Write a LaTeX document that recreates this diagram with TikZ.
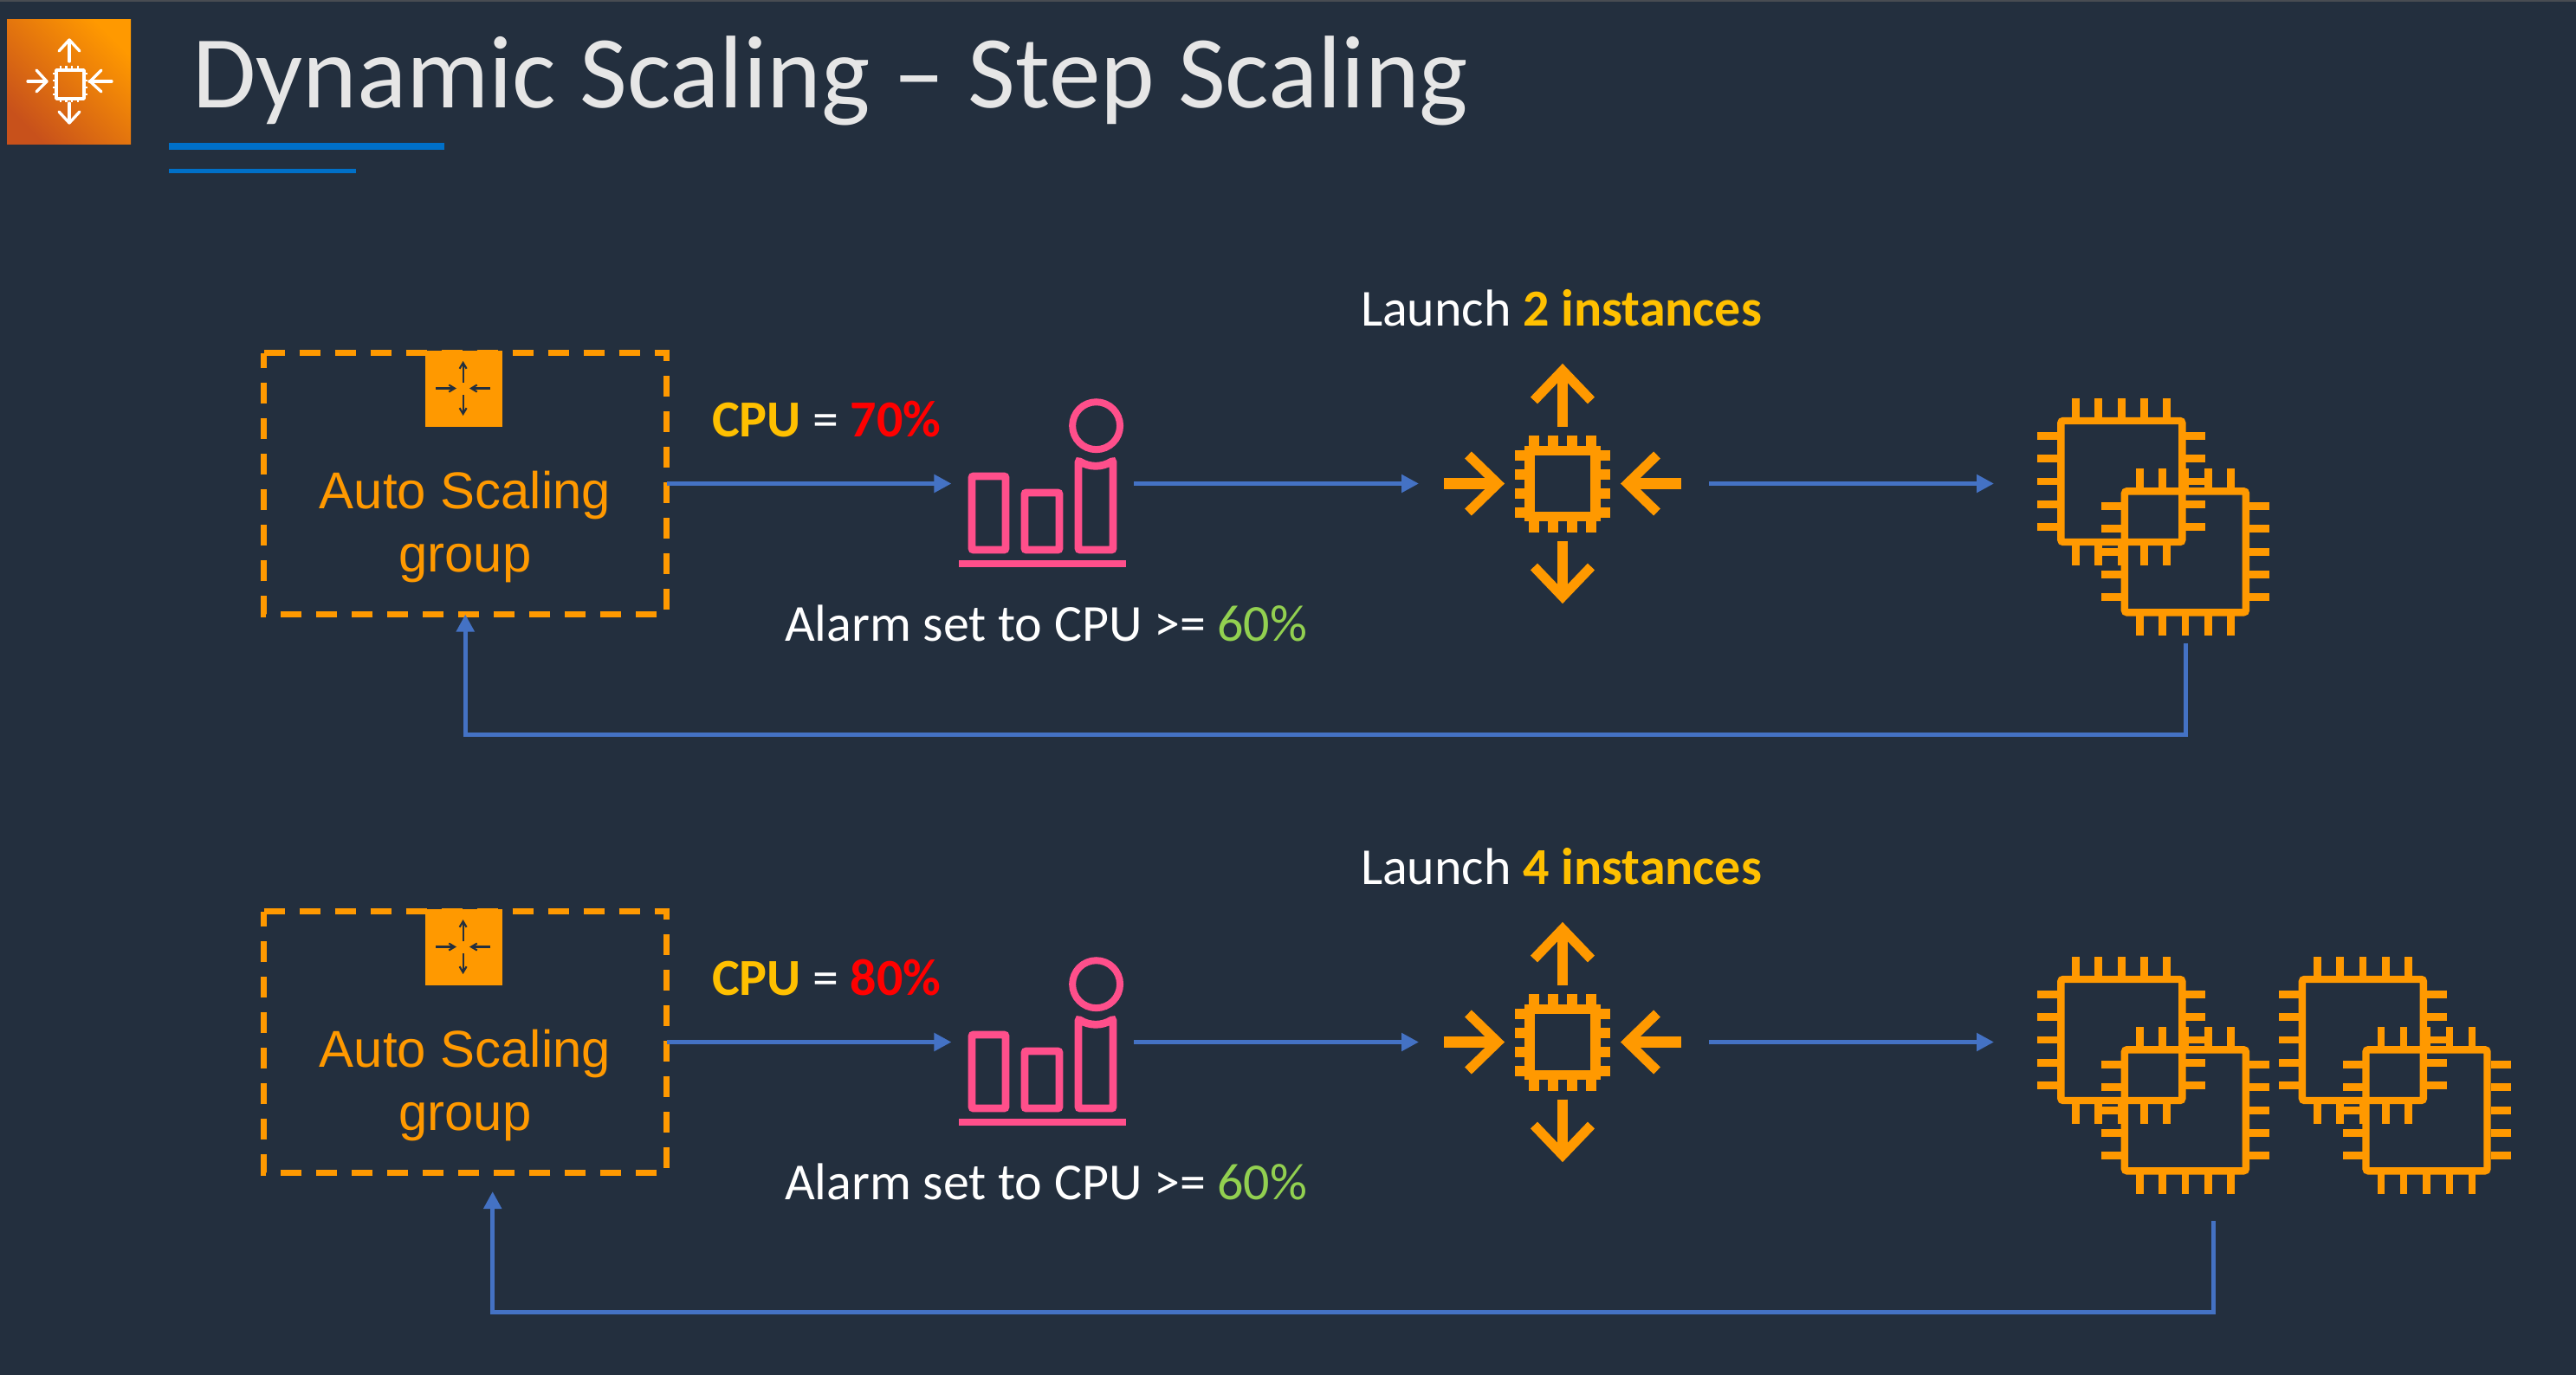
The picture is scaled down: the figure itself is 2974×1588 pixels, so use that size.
\documentclass[tikz,border=0pt]{standalone}
\usepackage{fontspec}
\setmainfont{Carlito}
\newfontfamily\arialfont{Liberation Sans}
\usetikzlibrary{arrows.meta}
\definecolor{bgc}{HTML}{232F3E}
\definecolor{awsor}{HTML}{FF9900}
\definecolor{awsdk}{HTML}{C8511B}
\definecolor{flow}{HTML}{4472C4}
\definecolor{pinkc}{HTML}{FF4F8B}
\definecolor{goldc}{HTML}{FFC000}
\definecolor{greenc}{HTML}{92D050}
\definecolor{titlec}{HTML}{E6E6E6}
\definecolor{barc}{HTML}{0070C8}
\definecolor{stripc}{HTML}{484C52}
\tikzset{
  flowline/.style={draw=flow,line width=3.75pt,-{Triangle[width=15pt,length=15pt]}},
  dashbox/.style={draw=awsor,line width=5.25pt,dash pattern=on 18pt off 12.75pt},
  hook/.style={inner sep=0pt,outer sep=0pt},
  lbl/.style={inner sep=0pt,outer sep=0pt,anchor=base west,font=\fontsize{45}{50}\selectfont,text=white},
  asgtext/.style={inner sep=0pt,outer sep=0pt,anchor=base,text=awsor,font=\arialfont\fontsize{44.9}{55}\selectfont},
  pinkline/.style={draw=pinkc,line width=6.6pt,rounded corners=1.5pt},
  orline/.style={draw=awsor,line width=6.2pt},
  chev/.style={draw=awsor,line width=8.4pt,line join=miter,miter limit=4},
}
% EC2-like chip centred at (#1,#2)
\newcommand{\instchip}[2]{%
  \begin{scope}[shift={(#1,#2)}]
    \draw[awsor,line width=6.3pt,rounded corners=2pt] (-70,-70) rectangle (70,70);
    \foreach \p in {-52.5,-26.5,0,26.5,52.5}{
      \draw[awsor,line width=6.5pt] (\p,-74) -- (\p,-96);
      \draw[awsor,line width=6.5pt] (\p,74) -- (\p,97);
      \draw[awsor,line width=6.5pt] (-74,\p) -- (-97,\p);
      \draw[awsor,line width=6.5pt] (74,\p) -- (97,\p);
    }
  \end{scope}}
% large scaling icon centred at (#1,#2)
\newcommand{\scaleicon}[2]{%
  \begin{scope}[shift={(#1,#2)}]
    \draw[orline,line width=8.6pt] (-38,-38) rectangle (38,38);
    \foreach \p in {-33,-11,11,33}{
      \draw[orline,line width=8.8pt] (\p,-56) -- (\p,-40);
      \draw[orline,line width=8.8pt] (\p,56) -- (\p,40);
      \draw[orline,line width=9pt] (-55,\p) -- (-40,\p);
      \draw[orline,line width=9pt] (55,\p) -- (40,\p);
    }
    \draw[orline,line width=9pt] (0,-66) -- (0,-125);
    \draw[chev] (-33,-96) -- (0,-130.5) -- (33,-96);
    \draw[orline,line width=9pt] (0,66) -- (0,125);
    \draw[chev] (-33,96) -- (0,130.5) -- (33,96);
    \draw[orline,line width=9.5pt] (-137,0) -- (-78,0);
    \draw[chev] (-109,-33) -- (-75,0) -- (-109,33);
    \draw[orline,line width=9.5pt] (137,0) -- (78,0);
    \draw[chev] (109,-33) -- (75,0) -- (109,33);
  \end{scope}}
% one whole row
\newcommand{\asgrow}[3]{%
  \node[hook,minimum width=349.1pt,minimum height=226.5pt] (asg#1) at (537.25,558.5) {};
  \draw[dashbox] (asg#1.north west) -- (asg#1.north east) -- (asg#1.south east) -- (asg#1.south west) -- cycle;
  \fill[awsor] (491,405) rectangle (579.5,492.7);
  \begin{scope}[draw=bgc,line width=1.6pt,-{Straight Barb[length=5pt,width=6pt]}]
    \draw (534.6,442) -- (534.6,417);
    \draw (534.6,456) -- (534.6,480);
    \draw (503,448.5) -- (527,448.5);
    \draw (566,448.5) -- (542,448.5);
  \end{scope}
  \node[asgtext] (asgt#1) at (537,587) {Auto Scaling};
  \node[asgtext] (asgg#1) at (537,660) {group};
  \node[lbl] (cpu#1) at (822,504) {\textbf{\textcolor{goldc}{CPU}} = \textbf{\textcolor{red}{#2}}};
  \node[lbl] (alarmt#1) at (906,740) {Alarm set to CPU >= \textcolor{greenc}{60\%}};
  \node[lbl] (launch#1) at (1571,376) {Launch \textbf{\textcolor{goldc}{#3 instances}}};
  % alarm icon
  \node[hook,minimum width=158pt,minimum height=100pt] (alarm#1) at (1203.8,558.5) {};
  \draw[pinkline] (1122,550) rectangle (1161,635);
  \draw[pinkline] (1183,569) rectangle (1223,635);
  \draw[pinkline] (1245,532) .. controls (1258,540) and (1272,540) .. (1285,532) -- (1285,635) -- (1245,635) -- cycle;
  \fill[pinkc] (1107,647) rectangle (1300,655);
  \draw[draw=pinkc,line width=6pt] (1265.6,491.7) circle [radius=20.6pt];
  % scaling icon
  \node[hook,minimum width=251.2pt,minimum height=100pt] (scale#1) at (1805.5,558.5) {};
  \scaleicon{1804}{558.5}
}
\begin{document}
\begin{tikzpicture}[x=0.75pt,y=-0.75pt]
  \fill[bgc] (0,0) rectangle (2974,1588);
  \fill[stripc] (0,0) rectangle (2974,2);
  % header icon
  \shade[left color=awsdk,right color=awsor,shading angle=135] (8,22) rectangle (151,166);
  \begin{scope}[draw=white,line width=2.5pt,line cap=round,line join=round]
    \draw (80,71) -- (80,47);
    \draw (68,59) -- (80,46) -- (92,59);
    \draw (80,119) -- (80,141);
    \draw (68,129) -- (80,142) -- (92,129);
    \draw (32,94) -- (54,94);
    \draw (42,81) -- (54,94) -- (42,106);
    \draw (129,94) -- (103,94);
    \draw (117,81) -- (104,94) -- (117,106);
    \draw[line width=2.8pt,line cap=butt] (65,81) rectangle (97,114);
    \foreach \p in {70,76.5,83,90}{
      \draw[line width=2pt,line cap=butt] (\p,76) -- (\p,81);
      \draw[line width=2pt,line cap=butt] (\p,114) -- (\p,118);
    }
    \foreach \p in {85,93,101,109}{
      \draw[line width=2pt,line cap=butt] (61,\p) -- (65,\p);
      \draw[line width=2pt,line cap=butt] (97,\p) -- (101,\p);
    }
  \end{scope}
  % title
  \node[inner sep=0pt,outer sep=0pt,anchor=base west,text=titlec,font=\fontsize{89.5}{100}\selectfont] (title) at (222,124) {Dynamic Scaling – Step Scaling};
  \fill[barc] (195,165) rectangle (513,173);
  \fill[barc] (195,194.5) rectangle (411,200);
  % row 1
  \asgrow{1}{70\%}{2}
  \node[hook,minimum width=331.5pt,minimum height=276.4pt] (inst1) at (2523,558.5) {};
  \instchip{2449.3}{556}
  \instchip{2522.9}{637.3}
  \draw[flowline] (asg1.east) -- (alarm1.west);
  \draw[flowline] (alarm1.east) -- (scale1.west);
  \draw[flowline] (scale1.east) -- (inst1.west);
  \coordinate (corner1) at (537.25,848);
  \draw[flowline] (inst1.south) |- (corner1) -- (asg1.south);
  % row 2
  \begin{scope}[shift={(0,645)}]
    \asgrow{2}{80\%}{4}
    \node[hook,minimum width=379.5pt,minimum height=309.75pt] (inst2) at (2555,558.5) {};
    \instchip{2449.3}{556}
    \instchip{2522.9}{637.3}
    \instchip{2727.9}{556}
    \instchip{2801.5}{637.3}
    \coordinate (corner2) at (568.7,870);
    \coordinate (tip2) at (568.7,731);
    \draw[flowline] (asg2.east) -- (alarm2.west);
    \draw[flowline] (alarm2.east) -- (scale2.west);
    \draw[flowline] (scale2.east) -- (inst2.west);
    \draw[flowline] (inst2.south) |- (corner2) -- (tip2);
  \end{scope}
\end{tikzpicture}
\end{document}
